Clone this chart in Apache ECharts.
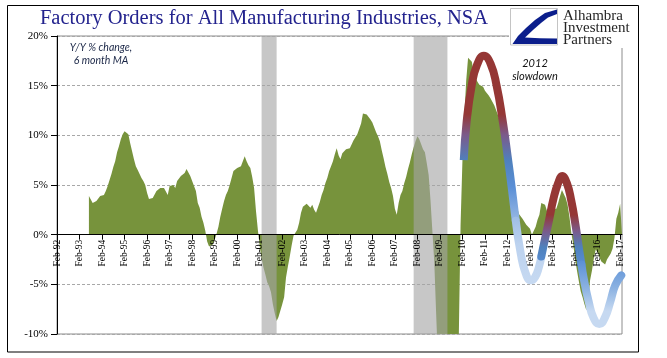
<!DOCTYPE html>
<html><head><meta charset="utf-8">
<script src="https://cdn.jsdelivr.net/npm/echarts@6/dist/echarts.min.js"></script>
<style>html,body{margin:0;padding:0;background:#fff}#c{width:667px;height:358px}</style>
</head><body><div id="c"></div>
<script>
// ---- categories: monthly, Feb-92 .. Mar-17 ----
const monthNames = ['Jan','Feb','Mar','Apr','May','Jun','Jul','Aug','Sep','Oct','Nov','Dec'];
const firstYear = 1992, firstMonth = 1, monthCount = 302;
const categories = [];
for (let i = 0; i < monthCount; i++) {
  const t = firstMonth + i;
  const yy = (firstYear + Math.floor(t / 12)) % 100;
  categories.push(monthNames[t % 12] + '-' + String(yy).padStart(2, '0'));
}

// ---- Y/Y % change, 6 month MA ----
const orders = [
  null,null,null,null,null,null,null,null,null,null,null,null,null,null,null,null,null,
  3.9,3.7,3.2,3.2,3.4,3.6,3.9,3.7,4.0,4.4,4.9,5.5,6.1,6.8,7.4,8.3,8.9,9.6,10.1,10.4,10.4,10.1,9.2,
  8.4,7.6,6.9,6.5,6.1,5.7,5.4,5.0,4.2,3.6,3.5,3.7,3.7,4.4,4.6,4.7,4.5,4.7,4.6,4.0,
  4.9,5.1,5.0,4.7,5.4,5.6,5.9,6.1,6.2,6.6,6.4,5.9,5.4,4.9,4.4,3.2,2.7,1.8,1.2,0.4,
  -0.7,-1.2,-1.35,-1.0,-0.5,0.1,0.8,1.8,2.6,3.4,4.0,4.4,5.0,5.7,6.4,6.6,6.7,6.8,6.9,7.1,
  7.9,7.4,7.0,6.7,5.8,4.7,2.4,0.5,-1.2,-2.4,-3.3,-4.0,-4.8,-5.2,-5.8,-7.0,-7.9,-8.7,-8.3,-8.4,
  -7.0,-6.3,-4.3,-3.2,-2.2,-1.1,-0.1,0.2,0.5,1.2,2.2,2.8,3.0,3.1,2.9,2.7,3.0,2.5,2.2,2.4,
  3.3,4.0,4.5,5.2,5.7,6.4,6.9,7.4,8.1,8.7,8.0,7.6,8.2,8.4,8.6,8.5,8.7,9.1,9.5,9.8,
  10.1,10.3,11.2,12.2,12.1,12.1,12.2,11.6,11.3,11.1,10.3,9.9,9.4,8.5,7.7,6.8,6.1,5.3,4.7,3.9,
  2.6,2.0,3.2,4.0,4.4,5.2,5.8,6.6,7.3,8.1,8.8,9.4,9.9,9.6,9.1,8.6,8.3,7.2,6.0,3.4,
  0.3,-2.8,-8.0,-13.0,-17.5,-21.0,-24.0,-25.5,-26.0,-25.0,-23.0,-20.0,-17.0,-14.0,-11.0,1.0,7.5,12.0,15.5,17.8,
  17.9,17.4,16.3,15.8,15.4,15.1,15.0,14.9,14.5,14.3,14.0,13.7,13.5,13.0,12.5,12.0,11.4,10.9,10.4,9.6,
  8.6,7.8,6.9,5.8,4.8,2.9,2.1,1.9,1.6,1.3,1.0,0.8,0.6,0.0,0.1,0.8,1.5,2.0,3.2,3.4,
  3.0,2.4,1.9,2.2,2.6,2.7,2.6,3.2,3.9,4.5,4.4,3.7,3.0,1.8,0.2,-1.0,-2.4,-3.6,-4.7,-5.7,
  -6.3,-7.0,-7.6,-6.8,-4.6,-3.6,-2.4,-1.5,-1.8,-2.3,-2.7,-2.9,-3.0,-2.5,-2.2,-1.9,-1.4,-0.3,1.6,2.2,
  3.1,3.3
];

// ---- recession shading (category names) ----
const recessions = [['Mar-01', 'Nov-01'], ['Dec-07', 'Jun-09']];

// ---- hand-drawn "2012 slowdown" wave, [month index, % value] ----
const waveArch1 = [[216.7,7.5],[218.3,11.5],[220.9,15.0],[223.6,17.0],[227.4,18.0],[231.0,17.2],[234.2,15.0],[237.4,11.5],[240.0,8.0],[242.2,4.8],[244.4,1.4]];
const waveTrough1 = [[244.4,1.4],[247.1,-1.95],[249.7,-3.9],[252.4,-4.6],[254.6,-4.3],[256.7,-3.3],[258.0,-2.2]];
const waveArch2 = [[258.0,-2.2],[259.9,-0.5],[262.0,1.35],[264.6,3.7],[267.0,5.2],[269.1,5.9],[271.6,5.2],[274.0,3.4],[276.2,1.0],[278.3,-1.7],[279.4,-3.0]];
const waveTrough2 = [[279.4,-3.0],[280.6,-4.4],[283.2,-6.7],[285.9,-8.4],[288.9,-9.0],[292.0,-8.3],[294.7,-6.8],[297.4,-5.1],[300.6,-4.1]];

const yTickValues = { min: -10, max: 20, step: 5 };

function grad(stops) {
  return { type: 'linear', x: 0, y: 0, x2: 0, y2: 1,
    colorStops: stops.map(s => ({ offset: s[0], color: s[1] })) };
}
function waveSeries(data, stops, cap) {
  return { type: 'line', xAxisIndex: 1, yAxisIndex: 0, data: data, smooth: true,
    symbol: 'none', showSymbol: false, silent: true, z: 20, animation: false,
    lineStyle: { width: 8, cap: cap, color: grad(stops) } };
}

const gridTop = 36, gridHeight = 298;
// move the category axis up to the 0% level
const zeroOffset = -gridHeight * (0 - yTickValues.min) / (yTickValues.max - yTickValues.min);

const chart = echarts.init(document.getElementById('c'), null, { renderer: 'canvas' });
chart.setOption({
  animation: false,
  backgroundColor: '#fff',
  grid: { left: 57, top: gridTop, width: 565, height: gridHeight, show: true,
    borderColor: '#8c8c8c', borderWidth: 1, backgroundColor: 'transparent' },
  xAxis: [
    { type: 'category', data: categories, boundaryGap: false, z: 10, position: 'bottom',
      offset: zeroOffset,
      axisLine: { onZero: false, lineStyle: { color: '#000', width: 1 } },
      axisTick: { interval: 11, length: 5, lineStyle: { color: '#000' } },
      axisLabel: { interval: 11, rotate: 90, margin: 5, color: '#000',
        fontFamily: 'Liberation Serif', fontSize: 9.5 },
      splitLine: { show: false } },
    { type: 'value', min: 0, max: monthCount - 1, show: false, position: 'bottom' }
  ],
  yAxis: {
    type: 'value', min: yTickValues.min, max: yTickValues.max, interval: yTickValues.step,
    axisLine: { show: true, onZero: false, lineStyle: { color: '#000' } },
    axisTick: { show: true, length: 6, lineStyle: { color: '#000' } },
    axisLabel: { formatter: '{value}%', margin: 9, color: '#000',
      fontFamily: 'Liberation Serif', fontSize: 11 },
    splitLine: { show: true, lineStyle: { color: '#a8a8a8', type: [3, 2], width: 1 } }
  },
  series: [
    { type: 'line', data: orders, showSymbol: false, symbol: 'none', silent: true, z: 2,
      lineStyle: { width: 0 }, areaStyle: { color: '#77933c', opacity: 1 } },
    { type: 'line', data: [], z: 5, silent: true,
      markArea: { silent: true, z: 5, itemStyle: { color: 'rgba(165,165,165,0.62)' },
        data: recessions.map(r => [{ xAxis: r[0] }, { xAxis: r[1] }]) } },
    waveSeries(waveArch1, [[0,'#953735'],[0.36,'#953735'],[0.48,'#7b5a8a'],[0.63,'#4f81bd'],[0.78,'#5a8fd6'],[1,'#9ebde6']], 'butt'),
    waveSeries(waveTrough1, [[0,'#9ebde6'],[0.4,'#bcd2ef'],[1,'#c6d9f1']], 'round'),
    waveSeries(waveArch2, [[0,'#953735'],[0.44,'#953735'],[0.61,'#7b5a8a'],[0.78,'#4f81bd'],[1,'#5a8fd6']], 'round'),
    waveSeries(waveTrough2, [[0,'#5a8fd6'],[0.42,'#8db3e2'],[0.75,'#c6d9f1'],[1,'#c6d9f1']], 'round')
  ],
  graphic: { elements: [
    { type: 'rect', z: 100, silent: true, shape: { x: 7.5, y: 5.5, width: 631, height: 346.5 },
      style: { fill: null, stroke: '#000', lineWidth: 1 } },
    { type: 'rect', z: 100, silent: true, shape: { x: 509, y: 6, width: 129, height: 42 },
      style: { fill: '#fff' } },
    { type: 'rect', z: 101, silent: true, shape: { x: 510.5, y: 8.5, width: 47, height: 36.5 },
      style: { fill: '#fff', stroke: '#c4c4c4', lineWidth: 1 } },
    { type: 'polygon', z: 102, silent: true,
      shape: { points: [[557,9.5],[545,13],[535,20],[526,28],[518,36],[512.5,44],[557,44]] },
      style: { fill: '#0b1e8c' } },
    { type: 'polygon', z: 103, silent: true,
      shape: { points: [[557,14],[548,17.5],[541,23],[533,30],[525,37.5],[540,38.3],[557,38.5]] },
      style: { fill: '#fff' } },
    { type: 'text', z: 102, silent: true, x: 563, y: 15.6,
      style: { text: 'Alhambra', font: '15px "Liberation Serif"', fill: '#262626', verticalAlign: 'middle' } },
    { type: 'text', z: 102, silent: true, x: 563, y: 27.9,
      style: { text: 'Investment', font: '15px "Liberation Serif"', fill: '#262626', verticalAlign: 'middle' } },
    { type: 'text', z: 102, silent: true, x: 563, y: 39.9,
      style: { text: 'Partners', font: '15px "Liberation Serif"', fill: '#262626', verticalAlign: 'middle' } },
    { type: 'text', z: 102, silent: true, x: 264, y: 18.6,
      style: { text: 'Factory Orders for All Manufacturing Industries, NSA', fontFamily: 'Liberation Serif',
        fontSize: 20.5, fill: '#23238e', align: 'center', verticalAlign: 'middle' } },
    { type: 'text', z: 102, silent: true, x: 101, y: 48,
      style: { text: 'Y/Y % change,', fontFamily: 'Lato', fontStyle: 'italic', fontSize: 10.5,
        fill: '#1b2747', align: 'center', verticalAlign: 'middle' } },
    { type: 'text', z: 102, silent: true, x: 101, y: 61,
      style: { text: '6 month MA', fontFamily: 'Lato', fontStyle: 'italic', fontSize: 10.5,
        fill: '#1b2747', align: 'center', verticalAlign: 'middle' } },
    { type: 'text', z: 102, silent: true, x: 535, y: 63,
      style: { text: '2012', fontFamily: 'Lato', fontStyle: 'italic', fontSize: 11,
        fill: '#111', align: 'center', verticalAlign: 'middle' } },
    { type: 'text', z: 102, silent: true, x: 535, y: 76.5,
      style: { text: 'slowdown', fontFamily: 'Lato', fontStyle: 'italic', fontSize: 11,
        fill: '#111', align: 'center', verticalAlign: 'middle' } }
  ] }
});
</script>
</body></html>
